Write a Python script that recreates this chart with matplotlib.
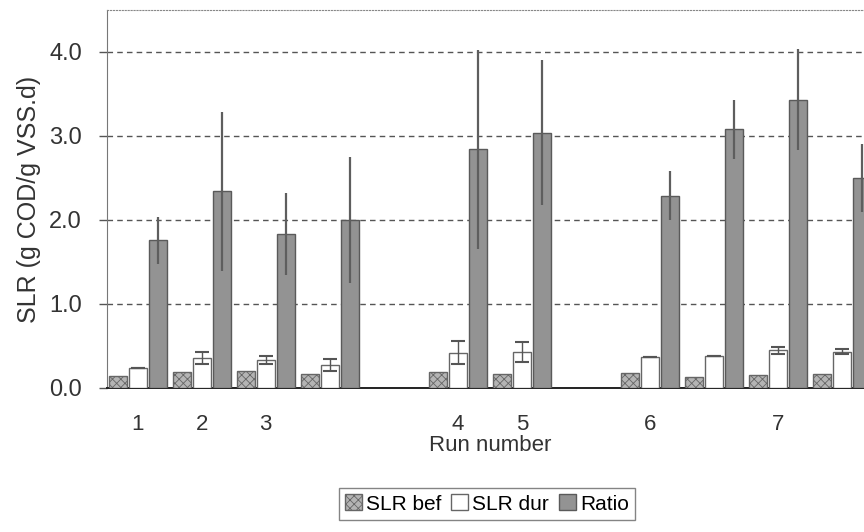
import matplotlib
matplotlib.use("Agg")
import matplotlib.pyplot as plt
import numpy as np

plt.rcParams["font.family"] = ["Liberation Sans", "DejaVu Sans"]
plt.rcParams["hatch.linewidth"] = 0.6

# slots along the x axis (Excel-style categories, some unlabelled / empty)
run_labels = ["1", "2", "3", "", "", "4", "5", "", "6", "", "7", ""]
slr_bef = [0.14, 0.19, 0.20, 0.17, np.nan, 0.19, 0.17, np.nan, 0.18, 0.13, 0.15, 0.17]
slr_dur = [0.24, 0.36, 0.33, 0.27, np.nan, 0.42, 0.43, np.nan, 0.37, 0.38, 0.45, 0.43]
slr_dur_err = [0.0, 0.07, 0.05, 0.07, np.nan, 0.14, 0.12, np.nan, 0.0, 0.0, 0.04, 0.03]
ratio = [1.76, 2.34, 1.83, 2.00, np.nan, 2.84, 3.04, np.nan, 2.29, 3.08, 3.43, 2.50]
ratio_err = [0.28, 0.95, 0.49, 0.75, np.nan, 1.18, 0.86, np.nan, 0.29, 0.35, 0.60, 0.40]

W, H = 864, 532
fig = plt.figure(figsize=(W / 100, H / 100), dpi=100)
ax = fig.add_axes([107 / W, 144 / H, 767 / W, 378 / H])

x = np.arange(len(run_labels))
bw = 0.28
off = 0.31

ax.bar(x - off, slr_bef, bw, color="#b4b4b4", edgecolor="#666666", hatch="xxxx",
       linewidth=1.0, label="SLR bef", zorder=3)
ax.bar(x, slr_dur, bw, color="white", edgecolor="#666666", linewidth=1.0,
       label="SLR dur", zorder=3)
ax.errorbar(x, slr_dur, yerr=slr_dur_err, fmt="none", ecolor="#555555",
            elinewidth=1.0, capsize=5, capthick=1.5, zorder=4)
ax.bar(x + off, ratio, bw, color="#939393", edgecolor="#5a5a5a", linewidth=1.0,
       label="Ratio", zorder=3)
ax.errorbar(x + off, ratio, yerr=ratio_err, fmt="none", ecolor="#5e5e5e",
            elinewidth=1.6, capsize=0, zorder=4)

ax.set_xlim(-0.48, 11.5)
ax.set_ylim(0, 4.5)
ax.set_yticks([0, 1, 2, 3, 4])
ax.set_yticklabels(["0.0", "1.0", "2.0", "3.0", "4.0"], fontsize=17, color="#333333")
ax.set_xticks(x)
ax.set_xticklabels(run_labels, fontsize=16, color="#333333")
ax.tick_params(axis="x", length=0, pad=19)
ax.tick_params(axis="y", length=6, width=1, color="#555555", direction="out", pad=12)
ax.set_xlabel("Run number", fontsize=16, color="#333333", labelpad=0)
ax.set_ylabel("SLR (g COD/g VSS.d)", fontsize=18, color="#333333", labelpad=6)

ax.yaxis.grid(True, linestyle=(0, (4, 3)), color="#555555", linewidth=1.0, zorder=0)
ax.set_axisbelow(True)

ax.spines["right"].set_visible(False)
ax.spines["top"].set_color("#888888")
ax.spines["top"].set_linestyle(":")
ax.spines["left"].set_color("#777777")
ax.spines["bottom"].set_color("#222222")
ax.spines["bottom"].set_linewidth(1.4)

leg = fig.legend(loc="center", bbox_to_anchor=(487 / W, 1 - 504 / H), ncol=3,
                 fontsize=15, frameon=True, fancybox=False, handlelength=0.8,
                 handleheight=0.8, handletextpad=0.2, columnspacing=0.5,
                 borderpad=0.3, borderaxespad=0)
leg.get_frame().set_edgecolor("#666666")
leg.get_frame().set_linewidth(1.0)

fig.savefig("out.png", dpi=100)
